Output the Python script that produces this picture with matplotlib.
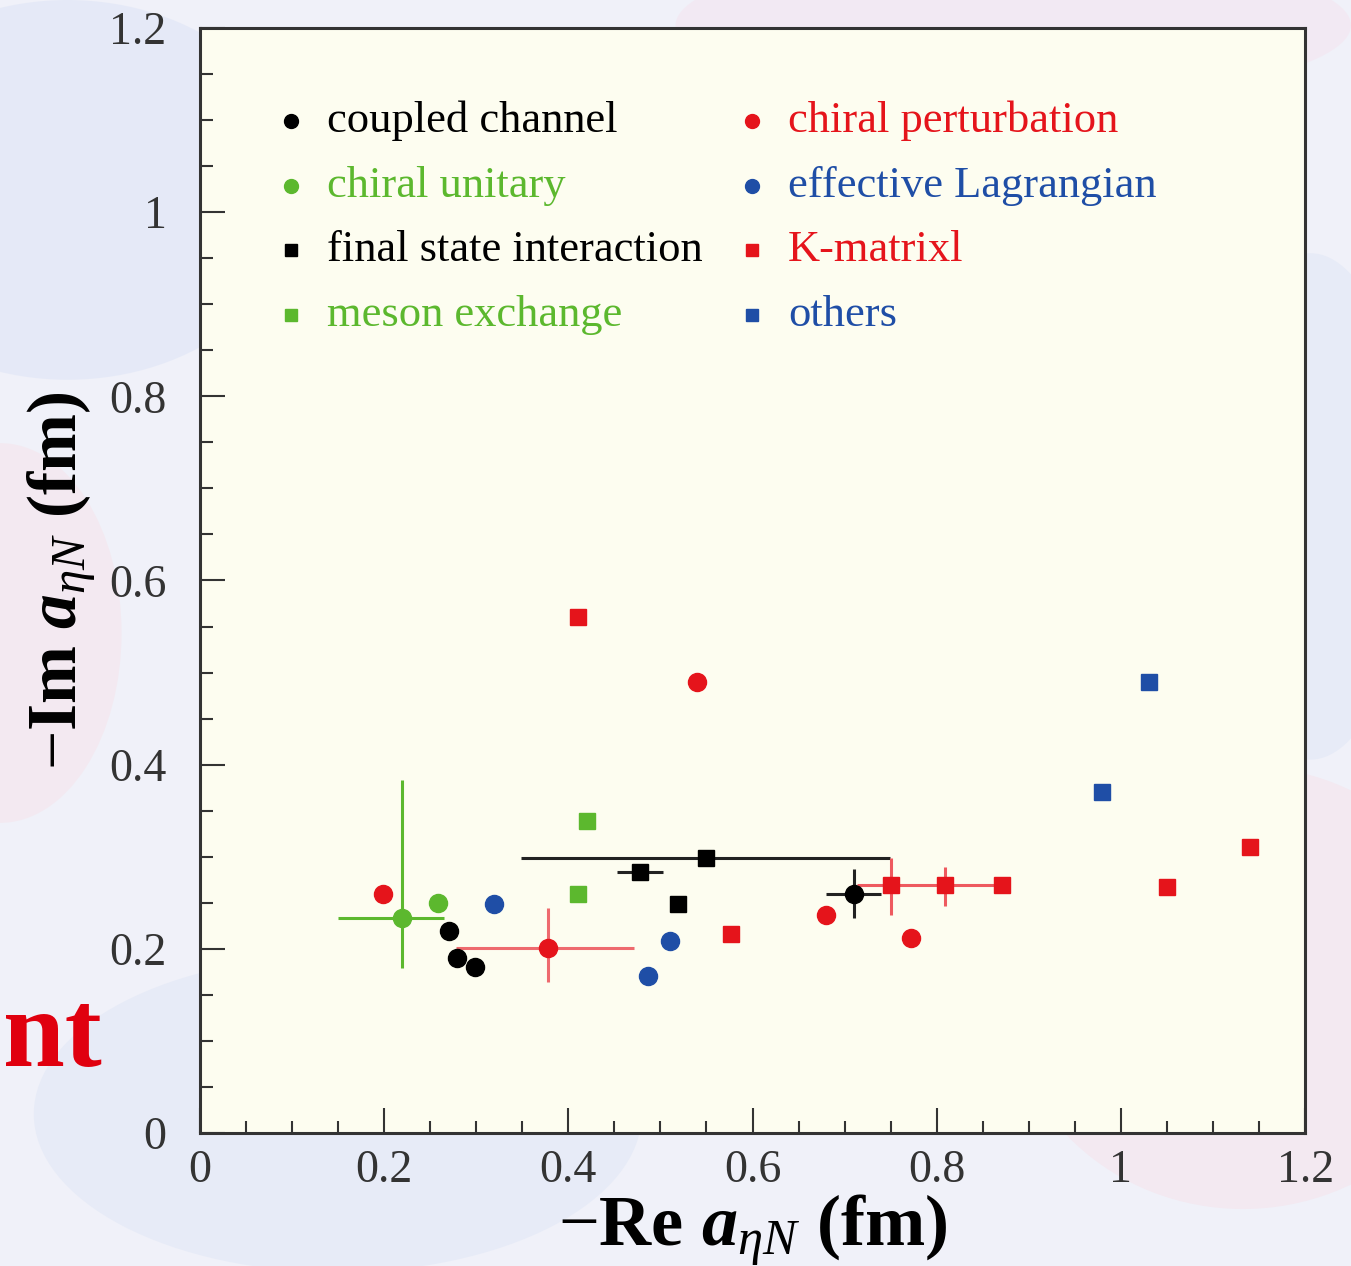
import numpy as np
import matplotlib
matplotlib.use("Agg")
import matplotlib.pyplot as plt
from matplotlib.patches import Ellipse
from matplotlib.ticker import MultipleLocator, FormatStrFormatter

plt.rcParams['font.family'] = ['Liberation Serif', 'DejaVu Serif']
plt.rcParams['mathtext.fontset'] = 'custom'
plt.rcParams['mathtext.rm'] = 'Liberation Serif'
plt.rcParams['mathtext.it'] = 'Liberation Serif:italic'
plt.rcParams['mathtext.bf'] = 'Liberation Serif:bold:italic'

# eta-N scattering length, -Re a vs -Im a (fm)
cc_x = [0.270, 0.279, 0.299, 0.710]
cc_y = [0.219, 0.190, 0.180, 0.260]
cc_xerr = [[0, 0, 0, 0.030], [0, 0, 0, 0.030]]
cc_yerr = [[0, 0, 0, 0.027], [0, 0, 0, 0.027]]

cu_x = [0.219, 0.259]
cu_y = [0.234, 0.250]
cu_xerr = [[0.069, 0], [0.046, 0]]
cu_yerr = [[0.055, 0], [0.149, 0]]

fsi_x = [0.478, 0.549, 0.519]
fsi_y = [0.283, 0.299, 0.249]
fsi_xerr = [[0.025, 0.200, 0], [0.025, 0.200, 0]]

me_x = [0.420, 0.410]
me_y = [0.339, 0.260]

cp_x = [0.199, 0.378, 0.540, 0.680, 0.772]
cp_y = [0.260, 0.201, 0.490, 0.237, 0.212]
cp_xerr = [[0, 0.100, 0, 0, 0], [0, 0.093, 0, 0, 0]]
cp_yerr = [[0, 0.037, 0, 0, 0], [0, 0.043, 0, 0, 0]]

el_x = [0.319, 0.510, 0.486]
el_y = [0.249, 0.209, 0.170]

km_x = [0.410, 0.577, 0.750, 0.809, 0.871, 1.050, 1.140]
km_y = [0.560, 0.216, 0.269, 0.269, 0.269, 0.267, 0.311]
km_xerr = [[0, 0, 0, 0.095, 0, 0, 0], [0, 0, 0, 0.062, 0, 0, 0]]
km_yerr = [[0, 0, 0.032, 0.022, 0, 0, 0], [0, 0, 0.030, 0.020, 0, 0, 0]]

ot_x = [0.980, 1.030]
ot_y = [0.370, 0.490]

BLACK = '#000000'
GREEN = '#5cb82e'
RED = '#e5141b'
BLUE = '#1f4ea6'

fig = plt.figure(figsize=(13.51, 12.66), dpi=100, facecolor='#f0f1f9')

# soft slide background behind the plot
bg = fig.add_axes([0, 0, 1, 1], zorder=-10)
bg.set_xlim(0, 1)
bg.set_ylim(0, 1)
bg.axis('off')
blobs = [(0.05, 0.85, 0.35, 0.30, '#e3e8f7'), (0.92, 0.22, 0.35, 0.35, '#f4e7ef'),
         (0.25, 0.12, 0.45, 0.25, '#e5eaf7'), (0.75, 0.98, 0.5, 0.12, '#f3e8f2'),
         (0.0, 0.5, 0.18, 0.3, '#f4e8ef'), (0.97, 0.6, 0.15, 0.4, '#e5eaf7')]
for bx, by, bw, bh, bc in blobs:
    bg.add_patch(Ellipse((bx, by), bw, bh, facecolor=bc, edgecolor='none', alpha=0.8))
bg.text(0.002, 0.158, 'nt', color='#e0000f', fontsize=80, fontweight='bold',
        ha='left', va='baseline', transform=bg.transAxes)

ax = fig.add_axes([0.148, 0.105, 0.818, 0.873])
ax.set_facecolor('#fdfdf0')

ebkw = dict(capsize=0, elinewidth=2.2, linestyle='none')
ax.errorbar(cu_x, cu_y, xerr=cu_xerr, yerr=cu_yerr, fmt='o', color=GREEN,
            ecolor=GREEN, ms=13, **ebkw)
ax.errorbar(fsi_x, fsi_y, xerr=fsi_xerr, fmt='s', color=BLACK,
            ecolor='#222222', ms=12, **ebkw)
ax.errorbar(cp_x, cp_y, xerr=cp_xerr, yerr=cp_yerr, fmt='o', color=RED,
            ecolor='#ee6a6e', ms=13, **ebkw)
ax.errorbar(km_x, km_y, xerr=km_xerr, yerr=km_yerr, fmt='s', color=RED,
            ecolor='#ee5a5f', ms=12, **ebkw)
ax.errorbar(cc_x, cc_y, xerr=cc_xerr, yerr=cc_yerr, fmt='o', color=BLACK,
            ecolor='#222222', ms=13, **ebkw)
ax.plot(me_x, me_y, 's', color=GREEN, ms=12)
ax.plot(el_x, el_y, 'o', color=BLUE, ms=13)
ax.plot(ot_x, ot_y, 's', color=BLUE, ms=12)

# legend, two columns
leg_labels = ['coupled channel', 'chiral unitary', 'final state interaction', 'meson exchange',
              'chiral perturbation', 'effective Lagrangian', 'K-matrixl', 'others']
leg_markers = ['o', 'o', 's', 's', 'o', 'o', 's', 's']
leg_colors = [BLACK, GREEN, BLACK, GREEN, RED, BLUE, RED, BLUE]
col_x = [0.0824, 0.4995]
row_y = [0.916, 0.857, 0.799, 0.740]
for i, (lab, mk, c) in enumerate(zip(leg_labels, leg_markers, leg_colors)):
    cx = col_x[i // 4]
    ry = row_y[i % 4]
    ax.plot([cx], [ry], mk, color=c, ms=10 if mk == 'o' else 9,
            transform=ax.transAxes, clip_on=False)
    ax.text(cx + 0.0325, ry, lab, color=c, fontsize=32, transform=ax.transAxes,
            ha='left', va='center')

ax.set_xlim(0, 1.2)
ax.set_ylim(0, 1.2)
ax.xaxis.set_major_locator(MultipleLocator(0.2))
ax.xaxis.set_minor_locator(MultipleLocator(0.05))
ax.yaxis.set_major_locator(MultipleLocator(0.2))
ax.yaxis.set_minor_locator(MultipleLocator(0.05))
ax.xaxis.set_major_formatter(FormatStrFormatter('%g'))
ax.yaxis.set_major_formatter(FormatStrFormatter('%g'))
ax.tick_params(which='both', direction='in', top=False, right=False,
               color='#333333', width=1.5, labelcolor='#333333', labelsize=33)
ax.tick_params(which='major', length=18)
ax.tick_params(which='minor', length=9)
ax.tick_params(axis='y', pad=24)
ax.tick_params(axis='x', pad=12)
for s in ax.spines.values():
    s.set_linewidth(2.2)
    s.set_color('#333333')

ax.set_xlabel(r'$-$Re $\mathbf{a}_{\eta N}$ (fm)', fontsize=52, fontweight='bold',
              labelpad=0)
ax.set_ylabel(r'$-$Im $\mathbf{a}_{\eta N}$ (fm)', fontsize=50, fontweight='bold',
              labelpad=8)

fig.savefig('out.png', dpi=100, facecolor=fig.get_facecolor())
